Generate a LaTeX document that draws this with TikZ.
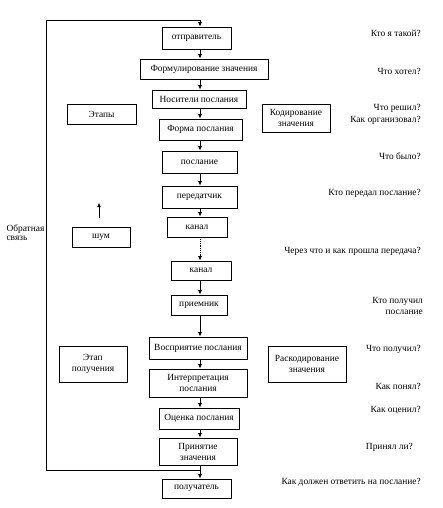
\documentclass[tikz,border=0pt]{standalone}
\usepackage{fontspec}
\setmainfont{Liberation Serif}
\usetikzlibrary{arrows.meta}

\begin{document}
\begin{tikzpicture}[x=1pt, y=-1pt,
    every node/.style={font=\fontsize{9.4}{11}\selectfont},
    box/.style={draw, line width=0.8pt, inner sep=1pt, align=center},
    arr/.style={-{Latex[length=4.5pt,width=4pt]}, line width=0.8pt}]
  \useasboundingbox (0,0) rectangle (442,508);
  \coordinate (axis) at (200,0);
  % main chain
  \node[box, minimum width=69pt,  minimum height=22pt] (sender)   at (196.5,38)  {отправитель};
  \node[box, minimum width=128pt, minimum height=20pt] (formul)   at (204,69)    {Формулирование значения};
  \node[box, minimum width=94pt,  minimum height=18pt] (carrier)  at (199,99)    {Носители послания};
  \node[box, minimum width=83pt,  minimum height=21pt] (form)     at (200.5,129.5) {Форма послания};
  \node[box, minimum width=75pt,  minimum height=22pt] (msg)      at (199.5,162) {послание};
  \node[box, minimum width=75pt,  minimum height=22pt] (trans)    at (199.5,197) {передатчик};
  \node[box, minimum width=60pt,  minimum height=20pt] (chanA)    at (197,227)   {канал};
  \node[box, minimum width=60pt,  minimum height=19pt] (chanB)    at (201,270.5) {канал};
  \node[box, minimum width=56pt,  minimum height=20pt] (recv)     at (199,305)   {приемник};
  \node[box, minimum width=98pt,  minimum height=22pt] (percept)  at (198,348)   {Восприятие послания};
  \node[box, minimum width=98pt,  minimum height=28pt] (interp)   at (198,383)   {Интерпретация\\послания};
  \node[box, minimum width=80pt,  minimum height=21pt] (judge)    at (199,418.5) {Оценка послания};
  \node[box, minimum width=78pt,  minimum height=27pt] (accept)   at (198,451.5) {Принятие\\значения};
  \node[box, minimum width=69pt,  minimum height=19pt] (recip)    at (196.5,488.5) {получатель};
  % side boxes
  \node[box, minimum width=69pt, minimum height=20pt] (stages)   at (101.5,114) {Этапы};
  \node[box, minimum width=68pt, minimum height=28pt] (coding)   at (296,118)   {Кодирование\\значения};
  \node[box, minimum width=58pt, minimum height=20pt] (noise)    at (101,237)   {шум};
  \node[box, minimum width=68pt, minimum height=36pt] (rstage)   at (93,364)    {Этап\\получения};
  \node[box, minimum width=78pt, minimum height=36pt] (decoding) at (307,364)   {Раскодирование\\значения};
  \node[align=left, anchor=west] (fb) at (3,233) {Обратная\\[-2pt]связь};
  % arrows
  \foreach \a/\b in {sender/formul, formul/carrier, carrier/form, form/msg, msg/trans,
                     trans/chanA, chanB/recv, recv/percept, percept/interp,
                     interp/judge, judge/accept, accept/recip}
    \draw[arr] (\a.south -| axis) -- (\b.north -| axis);
  \draw[arr, densely dotted] (chanA.south -| axis) -- (chanB.north -| axis);
  \draw[arr] ([xshift=-2pt,yshift=9pt]noise.north) -- ++(0,-15);
  % feedback loop
  \coordinate (fbx) at (46,0);
  \coordinate (fbtop) at (200,20);
  \coordinate (fbbot) at (200,470);
  \draw[line width=0.8pt] (fbbot) -- (fbbot -| fbx) -- (fbtop -| fbx) -- (fbtop);
  \draw[arr] (fbtop) -- (sender.north -| axis);
  % questions
  \foreach \i/\x/\y/\t in {1/421/33/{Кто я такой?}, 2/421/71/{Что хотел?},
      3/421/108/{Что решил?}, 4/421/120/{Как организовал?}, 5/421/156/{Что было?},
      6/421/193/{Кто передал послание?}, 7/421/251/{Через что и как прошла передача?},
      8/423/301/{Кто получил}, 9/423/312/{послание}, 10/421/349/{Что получил?},
      11/421/386/{Как понял?}, 12/421/410/{Как оценил?}, 13/413/447/{Принял ли?},
      14/421/482/{Как должен ответить на послание?}}
    \node[anchor=east, inner sep=0pt] (q\i) at (\x,\y) {\t};
\end{tikzpicture}
\end{document}
